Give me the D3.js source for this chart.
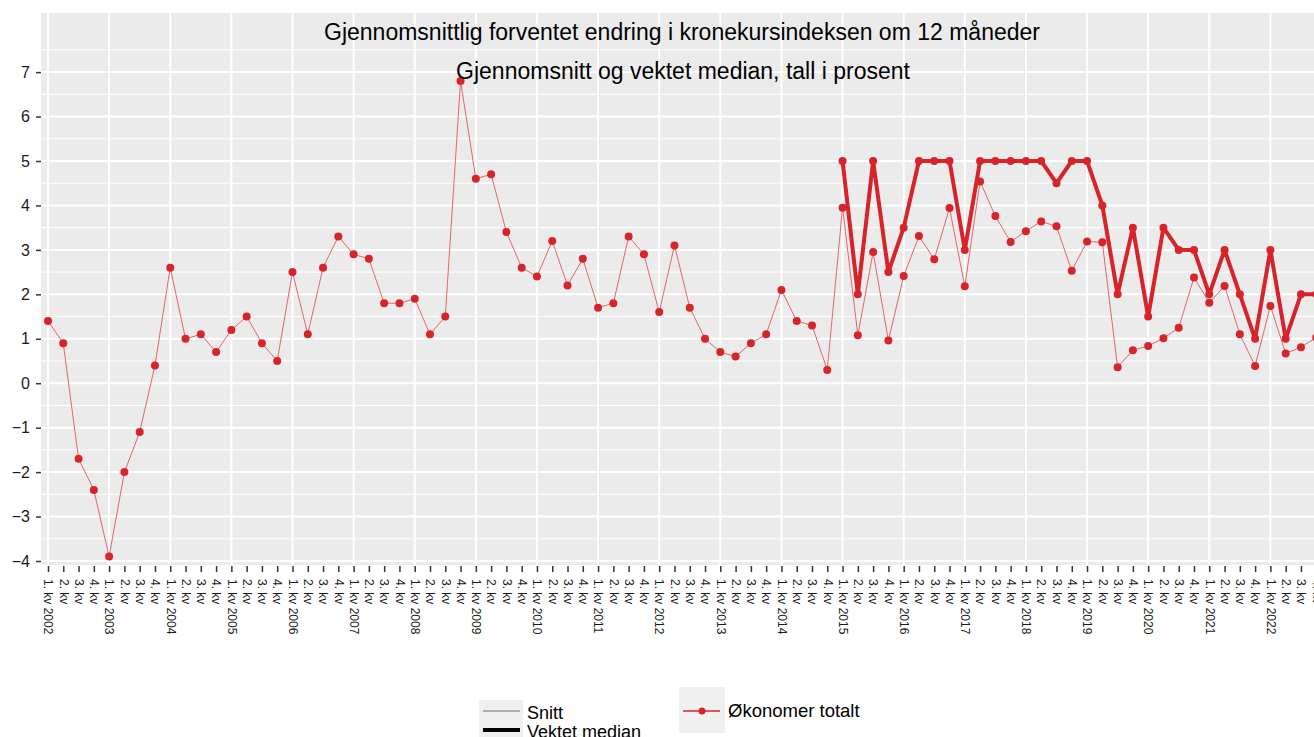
<!DOCTYPE html>
<html>
<head>
<meta charset="utf-8">
<script src="https://cdn.jsdelivr.net/npm/d3@7"></script>
<style>
  body { margin: 0; background: #fff; }
  svg { display: block; font-family: "Liberation Sans", Arial, sans-serif; }
</style>
</head>
<body>
<div id="chart"></div>
<script>
// quarters 2002 Q1 .. 2022 Q4
const years = d3.range(2002, 2023);
const quarters = years.flatMap(y => [1, 2, 3, 4].map(q => ({ year: y, q: q })));
const tickLabels = quarters.map(d => d.q === 1 ? `1. kv ${d.year}` : `${d.q}. kv`);

// Snitt (average), one value per quarter
const snitt = [
  1.4, 0.9, -1.7, -2.4,
  -3.9, -2.0, -1.1, 0.4,
  2.6, 1.0, 1.1, 0.7,
  1.2, 1.5, 0.9, 0.5,
  2.5, 1.1, 2.6, 3.3,
  2.9, 2.8, 1.8, 1.8,
  1.9, 1.1, 1.5, 6.8,
  4.6, 4.7, 3.4, 2.6,
  2.4, 3.2, 2.2, 2.8,
  1.7, 1.8, 3.3, 2.9,
  1.6, 3.1, 1.7, 1.0,
  0.7, 0.6, 0.9, 1.1,
  2.1, 1.4, 1.3, 0.3,
  3.95, 1.08, 2.95, 0.96,
  2.41, 3.31, 2.79, 3.94,
  2.18, 4.54, 3.76, 3.18,
  3.42, 3.64, 3.53, 2.53,
  3.19, 3.17, 0.36, 0.74,
  0.84, 1.01, 1.25, 2.38,
  1.81, 2.19, 1.1, 0.39,
  1.74, 0.67, 0.81, 1.03
];

// Vektet median, from 2015 Q1
const medianStart = 52;
const median = [
  5, 2, 5, 2.5,
  3.5, 5, 5, 5,
  3, 5, 5, 5,
  5, 5, 4.5, 5,
  5, 4, 2, 3.5,
  1.5, 3.5, 3, 3,
  2, 3, 2, 1,
  3, 1, 2, 2
];

const yTicks = [-4, -3, -2, -1, 0, 1, 2, 3, 4, 5, 6, 7];

const W = 1314, H = 737;
const panel = { left: 41, top: 13, right: 1340, bottom: 565 };
const red = "#d7242a";

const svg = d3.select("#chart").append("svg")
  .attr("width", W).attr("height", H);

const x = d3.scalePoint()
  .domain(tickLabels.map((d, i) => i))
  .range([48, 48 + 83 * 15.28]);

const y = d3.scaleLinear()
  .domain([-4.09, 8.33])
  .range([panel.bottom, panel.top]);

// panel background
svg.append("rect")
  .attr("x", panel.left).attr("y", panel.top)
  .attr("width", panel.right - panel.left)
  .attr("height", panel.bottom - panel.top)
  .attr("fill", "#ebebeb");

// minor horizontal grid (half units)
const grid = svg.append("g");
grid.selectAll(".hminor")
  .data(d3.range(-3.5, 8.5, 1))
  .enter().append("line")
  .attr("x1", panel.left).attr("x2", panel.right)
  .attr("y1", d => y(d)).attr("y2", d => y(d))
  .attr("stroke", "#fff").attr("stroke-width", 1);

grid.selectAll(".hmajor")
  .data(yTicks)
  .enter().append("line")
  .attr("x1", panel.left).attr("x2", panel.right)
  .attr("y1", d => y(d)).attr("y2", d => y(d))
  .attr("stroke", "#fff").attr("stroke-width", 2);

// vertical grid at each year start
grid.selectAll(".vmajor")
  .data(quarters.map((d, i) => i).filter(i => quarters[i].q === 1))
  .enter().append("line")
  .attr("x1", d => x(d)).attr("x2", d => x(d))
  .attr("y1", panel.top).attr("y2", panel.bottom)
  .attr("stroke", "#fff").attr("stroke-width", 2);

// y axis
const yAxis = svg.append("g")
  .attr("transform", `translate(${panel.left},0)`)
  .call(d3.axisLeft(y).tickValues(yTicks).tickSize(5).tickPadding(6).tickFormat(d3.format("d")));
yAxis.select(".domain").remove();
yAxis.selectAll(".tick line").attr("stroke", "#333").attr("stroke-width", 1.5);
yAxis.selectAll(".tick text")
  .attr("fill", "#1a1a1a")
  .style("font-size", "16px")
  .style("font-family", "Liberation Sans, Arial, sans-serif");

// x axis
const xAxis = svg.append("g")
  .attr("transform", `translate(0,${panel.bottom + 1})`)
  .call(d3.axisBottom(x).tickSize(6).tickFormat(i => tickLabels[i]));
xAxis.select(".domain").remove();
xAxis.selectAll(".tick line").attr("stroke", "#333").attr("stroke-width", 1.5);
xAxis.selectAll(".tick text")
  .attr("fill", "#1a1a1a")
  .style("font-size", "12px")
  .style("font-family", "Liberation Sans, Arial, sans-serif")
  .attr("text-anchor", "start")
  .attr("transform", "rotate(90)")
  .attr("x", 13)
  .attr("y", 0)
  .attr("dy", "0.35em");

// Snitt line
const snittLine = d3.line()
  .x((d, i) => x(i))
  .y(d => y(d));

svg.append("path")
  .datum(snitt)
  .attr("d", snittLine)
  .attr("fill", "none")
  .attr("stroke", "#e2666b")
  .attr("stroke-width", 1);

// Median line
const medianLine = d3.line()
  .x((d, i) => x(i + medianStart))
  .y(d => y(d));

svg.append("path")
  .datum(median)
  .attr("d", medianLine)
  .attr("fill", "none")
  .attr("stroke", red)
  .attr("stroke-width", 4)
  .attr("stroke-linejoin", "round");

svg.append("g").selectAll("circle")
  .data(median)
  .enter().append("circle")
  .attr("cx", (d, i) => x(i + medianStart))
  .attr("cy", d => y(d))
  .attr("r", 4)
  .attr("fill", red);

svg.append("g").selectAll("circle")
  .data(snitt)
  .enter().append("circle")
  .attr("cx", (d, i) => x(i))
  .attr("cy", d => y(d))
  .attr("r", 4)
  .attr("fill", red);

// titles
svg.append("text")
  .attr("x", 682).attr("y", 40)
  .attr("text-anchor", "middle")
  .style("font-size", "23px")
  .text("Gjennomsnittlig forventet endring i kronekursindeksen om 12 måneder");

svg.append("text")
  .attr("x", 683).attr("y", 79)
  .attr("text-anchor", "middle")
  .style("font-size", "23px")
  .text("Gjennomsnitt og vektet median, tall i prosent");

// legend 1: line type
const lg1 = svg.append("g");
lg1.append("rect")
  .attr("x", 479).attr("y", 700).attr("width", 44).attr("height", 40)
  .attr("fill", "#f0f0f0");
lg1.append("line")
  .attr("x1", 483).attr("x2", 520).attr("y1", 711).attr("y2", 711)
  .attr("stroke", "#999").attr("stroke-width", 1.5);
lg1.append("line")
  .attr("x1", 483).attr("x2", 520).attr("y1", 730).attr("y2", 730)
  .attr("stroke", "#000").attr("stroke-width", 4);
lg1.append("text")
  .attr("x", 527).attr("y", 719)
  .style("font-size", "18px")
  .text("Snitt");
lg1.append("text")
  .attr("x", 527).attr("y", 738)
  .style("font-size", "18px")
  .text("Vektet median");

// legend 2: group
const lg2 = svg.append("g");
lg2.append("rect")
  .attr("x", 679).attr("y", 687).attr("width", 46).attr("height", 46)
  .attr("fill", "#f0f0f0");
lg2.append("line")
  .attr("x1", 683).attr("x2", 720).attr("y1", 711).attr("y2", 711)
  .attr("stroke", red).attr("stroke-width", 1.5);
lg2.append("circle")
  .attr("cx", 702).attr("cy", 711).attr("r", 3.5)
  .attr("fill", red);
lg2.append("text")
  .attr("x", 728).attr("y", 717)
  .style("font-size", "18.5px")
  .text("Økonomer totalt");
</script>
</body>
</html>
